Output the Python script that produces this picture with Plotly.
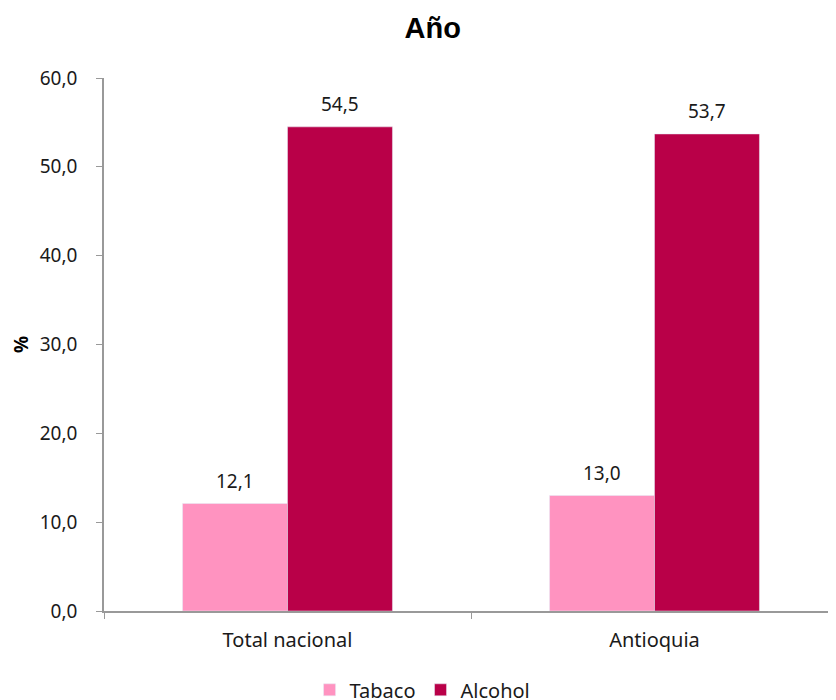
import plotly.graph_objects as go

# Datos
categorias = ["Total nacional", "Antioquia"]
tabaco = [12.1, 13.0]
alcohol = [54.5, 53.7]
y_ticks = [0, 10, 20, 30, 40, 50, 60]

FONT = "Noto Sans"
TXT = "#1a1a1a"

fig = go.Figure()
fig.add_trace(go.Bar(x=categorias, y=tabaco, name="Tabaco", marker_color="#FF93C0"))
fig.add_trace(go.Bar(x=categorias, y=alcohol, name="Alcohol", marker_color="#B90048"))

# value labels above each bar (half a bar width to either side of the category)
for serie, dx in ((tabaco, -52.5), (alcohol, 52.5)):
    for cat, v in zip(categorias, serie):
        fig.add_annotation(
            x=cat, y=v, xshift=dx, yshift=23,
            text=f"{v:.1f}".replace(".", ","),
            showarrow=False, xanchor="center", yanchor="middle",
            font=dict(family=FONT, size=19, color=TXT),
        )

# note: page body adds an 8px offset, margins compensate for it
fig.update_layout(
    width=836, height=700,
    separators=",.",
    barmode="group",
    bargap=0.428, bargroupgap=0,
    plot_bgcolor="white", paper_bgcolor="white",
    font=dict(family=FONT, size=19, color=TXT),
    title=dict(text="<b>Año</b>", x=0.508, xanchor="center", y=0.971, yanchor="middle",
               font=dict(family="Liberation Sans", size=29, color="#000")),
    margin=dict(l=96, r=6, t=70, b=97),
    legend=dict(orientation="h", x=0.434, xanchor="center",
                yref="container", y=0.026, yanchor="middle",
                font=dict(size=20), itemwidth=30, traceorder="normal"),
    showlegend=True,
)

fig.update_xaxes(
    showline=True, linecolor="#999", linewidth=1.5,
    ticks="outside", tickson="boundaries", ticklen=6, tickcolor="#999",
    ticklabelstandoff=10, tickfont=dict(size=20),
    showgrid=False, automargin=False,
)
fig.update_yaxes(
    range=[0, 60], tickvals=y_ticks, tickformat=".1f",
    showline=True, linecolor="#999", linewidth=1.5,
    ticks="outside", ticklen=6, tickcolor="#999",
    ticklabelstandoff=15,
    showgrid=False, zeroline=False, automargin=False,
    title=dict(text="<b>%</b>", font=dict(size=19, color="#000"), standoff=6),
)

fig.write_html("out.html")
